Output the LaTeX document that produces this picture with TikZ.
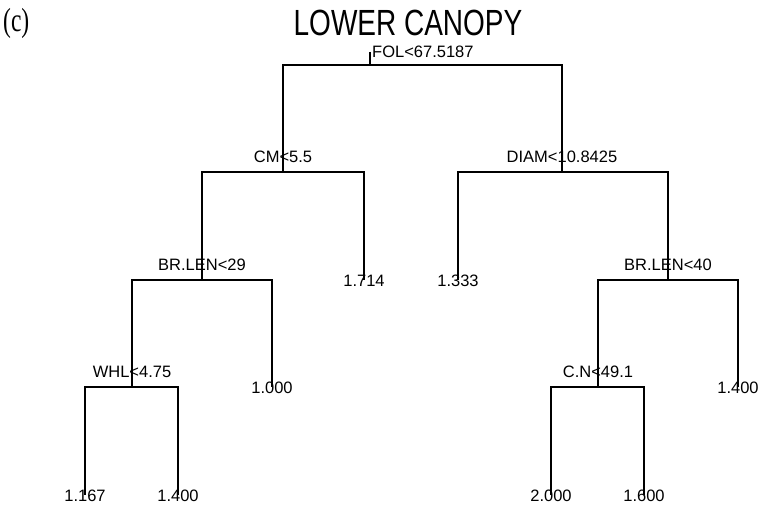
\documentclass[tikz,border=0pt]{standalone}
\usepackage{fontspec}
\setmainfont{Liberation Sans}
\newfontfamily\panelfont{Liberation Serif}

\tikzset{
    branch/.style={line width=1.2pt, line join=miter},
    splitlabel/.style={inner sep=0pt, anchor=base, font=\fontsize{16.5}{18}\selectfont},
    leaflabel/.style={inner sep=0pt, anchor=base, font=\fontsize{16.5}{18}\selectfont},
}

\begin{document}
\begin{tikzpicture}[x=1pt,y=-1pt]
    \useasboundingbox (0,0) rectangle (760,508);

    % Intestazione
    \node[inner sep=0pt, anchor=base west] (panel) at (3,32) {\scalebox{1}[1.42]{\panelfont\fontsize{23.5}{26}\selectfont (c)}};
    \node[inner sep=0pt, anchor=base] (title) at (408,36) {\scalebox{1}[1.3]{\fontsize{28}{30}\selectfont LOWER CANOPY}};

    % Nodi dell'albero
    \coordinate (top) at (370,52);
    \coordinate (fol) at (370,65);
    \coordinate (cm) at (283,172);
    \coordinate (diam) at (562,172);
    \coordinate (brlenA) at (202,280);
    \coordinate (leafA) at (364,280);
    \coordinate (leafB) at (458,280);
    \coordinate (brlenB) at (668,280);
    \coordinate (whl) at (132,387);
    \coordinate (leafC) at (272,387);
    \coordinate (cn) at (598,387);
    \coordinate (leafD) at (738,387);
    \coordinate (leafE) at (85,495);
    \coordinate (leafF) at (178,495);
    \coordinate (leafG) at (551,495);
    \coordinate (leafH) at (644,495);

    % Rami
    \draw[branch] (top) -- (fol);
    \draw[branch] (cm) |- (fol) -| (diam);
    \draw[branch] (brlenA) |- (cm) -| (leafA);
    \draw[branch] (leafB) |- (diam) -| (brlenB);
    \draw[branch] (whl) |- (brlenA) -| (leafC);
    \draw[branch] (cn) |- (brlenB) -| (leafD);
    \draw[branch] (leafE) |- (whl) -| (leafF);
    \draw[branch] (leafG) |- (cn) -| (leafH);

    % Etichette delle divisioni
    \node[splitlabel, anchor=base west] (folT) at (372,58) {FOL<67.5187};
    \node[splitlabel] (cmT) at (283,162) {CM<5.5};
    \node[splitlabel] (diamT) at (562,162) {DIAM<10.8425};
    \node[splitlabel] (brlenAT) at (202,270) {BR.LEN<29};
    \node[splitlabel] (brlenBT) at (668,270) {BR.LEN<40};
    \node[splitlabel] (whlT) at (132,377) {WHL<4.75};
    \node[splitlabel] (cnT) at (598,377) {C.N<49.1};

    % Foglie
    \node[leaflabel] (leafAT) at (364,286) {1.714};
    \node[leaflabel] (leafBT) at (458,286) {1.333};
    \node[leaflabel] (leafCT) at (272,393) {1.000};
    \node[leaflabel] (leafDT) at (738,393) {1.400};
    \node[leaflabel] (leafET) at (85,501) {1.167};
    \node[leaflabel] (leafFT) at (178,501) {1.400};
    \node[leaflabel] (leafGT) at (551,501) {2.000};
    \node[leaflabel] (leafHT) at (644,501) {1.600};
\end{tikzpicture}
\end{document}
